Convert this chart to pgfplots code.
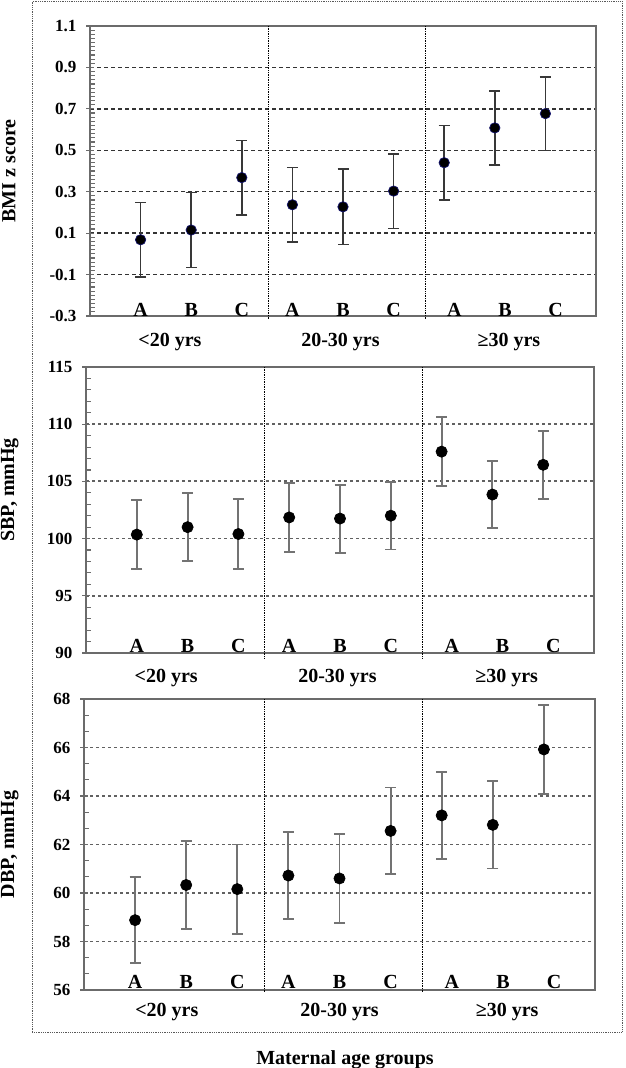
\documentclass[border=0pt]{standalone}
\usepackage{pgfplots}
\pgfplotsset{compat=1.18}
\usepackage{fontspec}
\setmainfont{Liberation Serif}
\definecolor{framegray}{gray}{0.42}
\definecolor{errdark}{gray}{0.22}
\definecolor{errlight}{gray}{0.45}
\definecolor{griddark}{gray}{0.2}
\definecolor{gridlight}{gray}{0.38}
\definecolor{ptedge}{RGB}{20,20,110}
\newcommand{\tickfont}{\bfseries\fontsize{17}{17}\selectfont}
\newcommand{\labfont}{\bfseries\fontsize{20}{22}\selectfont}
\pgfplotsset{
  panel/.style={
    scale only axis, clip=false,
    xmin=0, xmax=10,
    xtick={1,2,3,4,5,6,7.2,8.2,9.2},
    xticklabels={A,B,C,A,B,C,A,B,C},
    xtick style={draw=none},
    xticklabel style={anchor=base, font=\labfont},
    ytick pos=left,
    tick align=center,
    major tick length=8pt,
    minor tick length=5pt,
    minor tick style={xshift=2.5pt},
    tick style={draw=framegray, line width=1.1pt},
    yticklabel style={font=\tickfont, xshift=-6pt},
    /pgf/number format/assume math mode=true,
    axis line style={draw=framegray, line width=1.8pt},
    ymajorgrids,
    ylabel style={font=\labfont, anchor=center, rotate=0},
  },
  pts/.style n args={4}{only marks, mark=*, mark size=#2,
    mark options={fill=black, draw=#1, line width=0.7pt},
    error bars/.cd, y dir=both, y explicit,
    error bar style={draw=#3, line width=#4},
    error mark options={rotate=90, mark size=5.5pt, draw=#3, line width=#4}},
}
\begin{document}
\begin{tikzpicture}
\useasboundingbox (0pt,0pt) rectangle (625pt,1068pt);
\draw[densely dotted, line width=0.8pt, black!65] (32pt,36pt) rectangle (622pt,1066.5pt);
\node[font=\labfont, anchor=base] at (345pt,4pt) {Maternal age groups};

% ---------- Panel 1: BMI z score ----------
\begin{axis}[panel,
  at={(90pt,752pt)}, anchor=south west, width=506pt, height=290pt,
  ymin=-0.3, ymax=1.1,
  ytick={-0.3,-0.1,0.1,0.3,0.5,0.7,0.9,1.1},
  yticklabels={-0.3,-0.1,0.1,0.3,0.5,0.7,0.9,1.1},
  minor tick num=9,
  major grid style={draw=griddark, line width=1.4pt, dash pattern=on 4pt off 3pt},
  xticklabel style={yshift=3pt},
  ylabel={BMI z score},
  ylabel style={at={(rel axis cs:-0.160,0.5)}},
]
\addplot[pts={ptedge}{5.2pt}{errdark}{1.5pt}] table[x=x, y=y, y error=e] {
x y e
1 0.068 0.180
2 0.115 0.180
3 0.368 0.180
4 0.237 0.180
5 0.227 0.183
6 0.303 0.180
7 0.440 0.180
8 0.608 0.178
9 0.677 0.177
};
\draw[densely dotted, line width=0.7pt] (axis cs:3.52,1.1) -- ([yshift=-4pt]axis cs:3.52,-0.3);
\draw[densely dotted, line width=0.7pt] (axis cs:6.62,1.1) -- ([yshift=-4pt]axis cs:6.62,-0.3);
\node[font=\labfont, anchor=base, yshift=-31pt] at (axis cs:1.58,-0.3) {<20 yrs};
\node[font=\labfont, anchor=base, yshift=-31pt] at (axis cs:4.95,-0.3) {20-30 yrs};
\node[font=\labfont, anchor=base, yshift=-31pt] at (axis cs:8.28,-0.3) {≥30 yrs};
\end{axis}

% ---------- Panel 2: SBP ----------
\begin{axis}[panel,
  at={(86pt,415pt)}, anchor=south west, width=508pt, height=286pt,
  ymin=90, ymax=115,
  ytick={90,95,100,105,110,115},
  minor tick num=4,
  major grid style={draw=gridlight, line width=1.8pt, dash pattern=on 3pt off 3pt},
  xticklabel style={yshift=4.5pt},
  ylabel={SBP, mmHg},
  ylabel style={at={(rel axis cs:-0.150,0.57)}},
]
\addplot[pts={black}{5.6pt}{errlight}{1.9pt}] table[x=x, y=y, y error=e] {
x y e
1 100.35 3.02
2 101.00 2.95
3 100.40 3.07
4 101.85 3.03
5 101.75 2.97
6 102.00 2.95
7 107.60 3.00
8 103.85 2.95
9 106.45 2.95
};
\draw[densely dotted, line width=0.7pt] (axis cs:3.52,115) -- ([yshift=-5pt]axis cs:3.52,90);
\draw[densely dotted, line width=0.7pt] (axis cs:6.62,115) -- ([yshift=-5pt]axis cs:6.62,90);
\node[font=\labfont, anchor=base, yshift=-30pt] at (axis cs:1.58,90) {<20 yrs};
\node[font=\labfont, anchor=base, yshift=-30pt] at (axis cs:4.95,90) {20-30 yrs};
\node[font=\labfont, anchor=base, yshift=-30pt] at (axis cs:8.28,90) {≥30 yrs};
\end{axis}

% ---------- Panel 3: DBP ----------
\begin{axis}[panel,
  at={(84pt,78pt)}, anchor=south west, width=511pt, height=291pt,
  ymin=56, ymax=68,
  ytick={56,58,60,62,64,66,68},
  minor tick num=2,
  major grid style={draw=gridlight, line width=1.8pt, dash pattern=on 3pt off 3pt},
  xticklabel style={yshift=5pt},
  ylabel={DBP, mmHg},
  ylabel style={at={(rel axis cs:-0.145,0.5)}},
]
\addplot[pts={black}{5.6pt}{errlight}{1.9pt}] table[x=x, y=y, y error=e] {
x y e
1 58.88 1.78
2 60.33 1.82
3 60.16 1.84
4 60.72 1.81
5 60.60 1.82
6 62.56 1.79
7 63.20 1.79
8 62.81 1.80
9 65.92 1.83
};
\draw[densely dotted, line width=0.7pt] (axis cs:3.52,68) -- ([yshift=-3pt]axis cs:3.52,56);
\draw[densely dotted, line width=0.7pt] (axis cs:6.62,68) -- ([yshift=-3pt]axis cs:6.62,56);
\node[font=\labfont, anchor=base, yshift=-27pt] at (axis cs:1.62,56) {<20 yrs};
\node[font=\labfont, anchor=base, yshift=-27pt] at (axis cs:5.0,56) {20-30 yrs};
\node[font=\labfont, anchor=base, yshift=-27pt] at (axis cs:8.28,56) {≥30 yrs};
\end{axis}
\end{tikzpicture}
\end{document}
